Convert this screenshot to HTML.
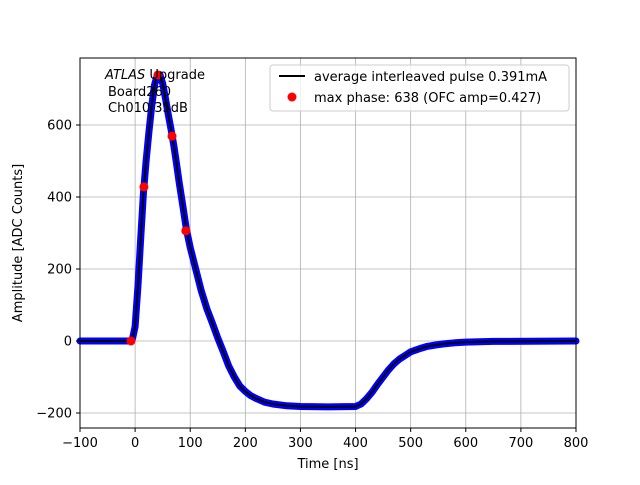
<!DOCTYPE html>
<html><head><meta charset="utf-8"><style>
body{margin:0;background:#fff}
svg text{font-family:"DejaVu Sans","Liberation Sans",sans-serif;font-size:13px;fill:#000}
</style></head><body>
<svg width="640" height="480" id="c">
<rect width="640" height="480" fill="#fff"/>
<g id="grid"></g><g id="series"></g><g id="ticks"></g>
<rect x="80" y="58" width="496" height="370" fill="none" stroke="#000" stroke-width="1"/>
<text x="328" y="468" text-anchor="middle">Time [ns]</text>
<text transform="translate(22,243) rotate(-90)" text-anchor="middle">Amplitude [ADC Counts]</text>
<g>
<text x="105" y="79"><tspan font-style="italic">ATLAS</tspan> Upgrade</text>
<text x="108" y="96">Board260</text>
<text x="108" y="112">Ch010 35dB</text>
</g>
<g>
<rect x="270" y="65" width="299" height="46" rx="3" fill="#fff" fill-opacity="0.8" stroke="#ccc"/>
<line x1="279" y1="76" x2="305" y2="76" stroke="#000" stroke-width="2"/>
<text x="314" y="81">average interleaved pulse 0.391mA</text>
<circle cx="292" cy="97" r="4.5" fill="red"/>
<text x="314" y="102">max phase: 638 (OFC amp=0.427)</text>
</g>
</svg>
<script>
const pulseTimes=[-100,-10,-5,0,5,10,15,20,25,30,35,40,45,50,55,60,65,70,75,80,85,93,100,110,120,130,140,150,160,170,180,190,200,210,220,235,250,275,300,350,400,410,420,430,440,450,460,470,480,490,500,515,530,545,560,580,600,650,800];
const pulseValues=[0,0,5,40,150,280,410,500,580,650,710,738,740,715,675,630,590,545,495,440,390,310,260,200,140,90,50,8,-30,-70,-100,-125,-140,-152,-160,-170,-175,-180,-182,-183,-182,-175,-160,-142,-120,-100,-80,-63,-50,-40,-30,-22,-15,-11,-8,-5,-3,-1,0];
const phaseTimes=[-7.5,16,41.5,67,92];
const phaseValues=[0,428,739,569,306];
const xTicks=[-100,0,100,200,300,400,500,600,700,800];
const yTicks=[-200,0,200,400,600];
const X=v=>80+(v+100)*496/900;
const Y=v=>341-v*0.36;
const NS="http://www.w3.org/2000/svg";
function mk(p,t,a){const e=document.createElementNS(NS,t);for(const k in a)e.setAttribute(k,a[k]);p.appendChild(e);return e;}
const g=document.getElementById('grid'),s=document.getElementById('series'),tk=document.getElementById('ticks');
xTicks.forEach(v=>{
 const l=mk(g,'line',{x1:X(v),x2:X(v),y1:58,y2:428,stroke:'#b0b0b0','stroke-width':0.8});
 
 
 mk(tk,'line',{x1:X(v),x2:X(v),y1:428,y2:432,stroke:'#000'});
 const t=mk(tk,'text',{x:X(v),y:447,'text-anchor':'middle'});t.textContent=v<0?'\u2212'+(-v):v;
 
 
});
yTicks.forEach(v=>{
 const l=mk(g,'line',{x1:80,x2:576,y1:Y(v),y2:Y(v),stroke:'#b0b0b0','stroke-width':0.8});
 
 
 mk(tk,'line',{x1:76,x2:80,y1:Y(v),y2:Y(v),stroke:'#000'});
 const t=mk(tk,'text',{x:72,y:Y(v)+4.5,'text-anchor':'end'});t.textContent=v<0?'\u2212'+(-v):v;
 
 
});
const pts=pulseTimes.map((t,i)=>X(t).toFixed(1)+','+Y(pulseValues[i]).toFixed(1)).join(' ');
const b=mk(s,'polyline',{points:pts,fill:'none',stroke:'#0000ff','stroke-width':7,'stroke-linejoin':'round','stroke-linecap':'round'});


const k=mk(s,'polyline',{points:pts,fill:'none',stroke:'#000','stroke-width':2,'stroke-linejoin':'round'});


phaseTimes.forEach((t,i)=>{
 const c=mk(s,'circle',{cx:X(t),cy:Y(phaseValues[i]),r:4.5,fill:'red'});
 
 
});
</script>
</body></html>
